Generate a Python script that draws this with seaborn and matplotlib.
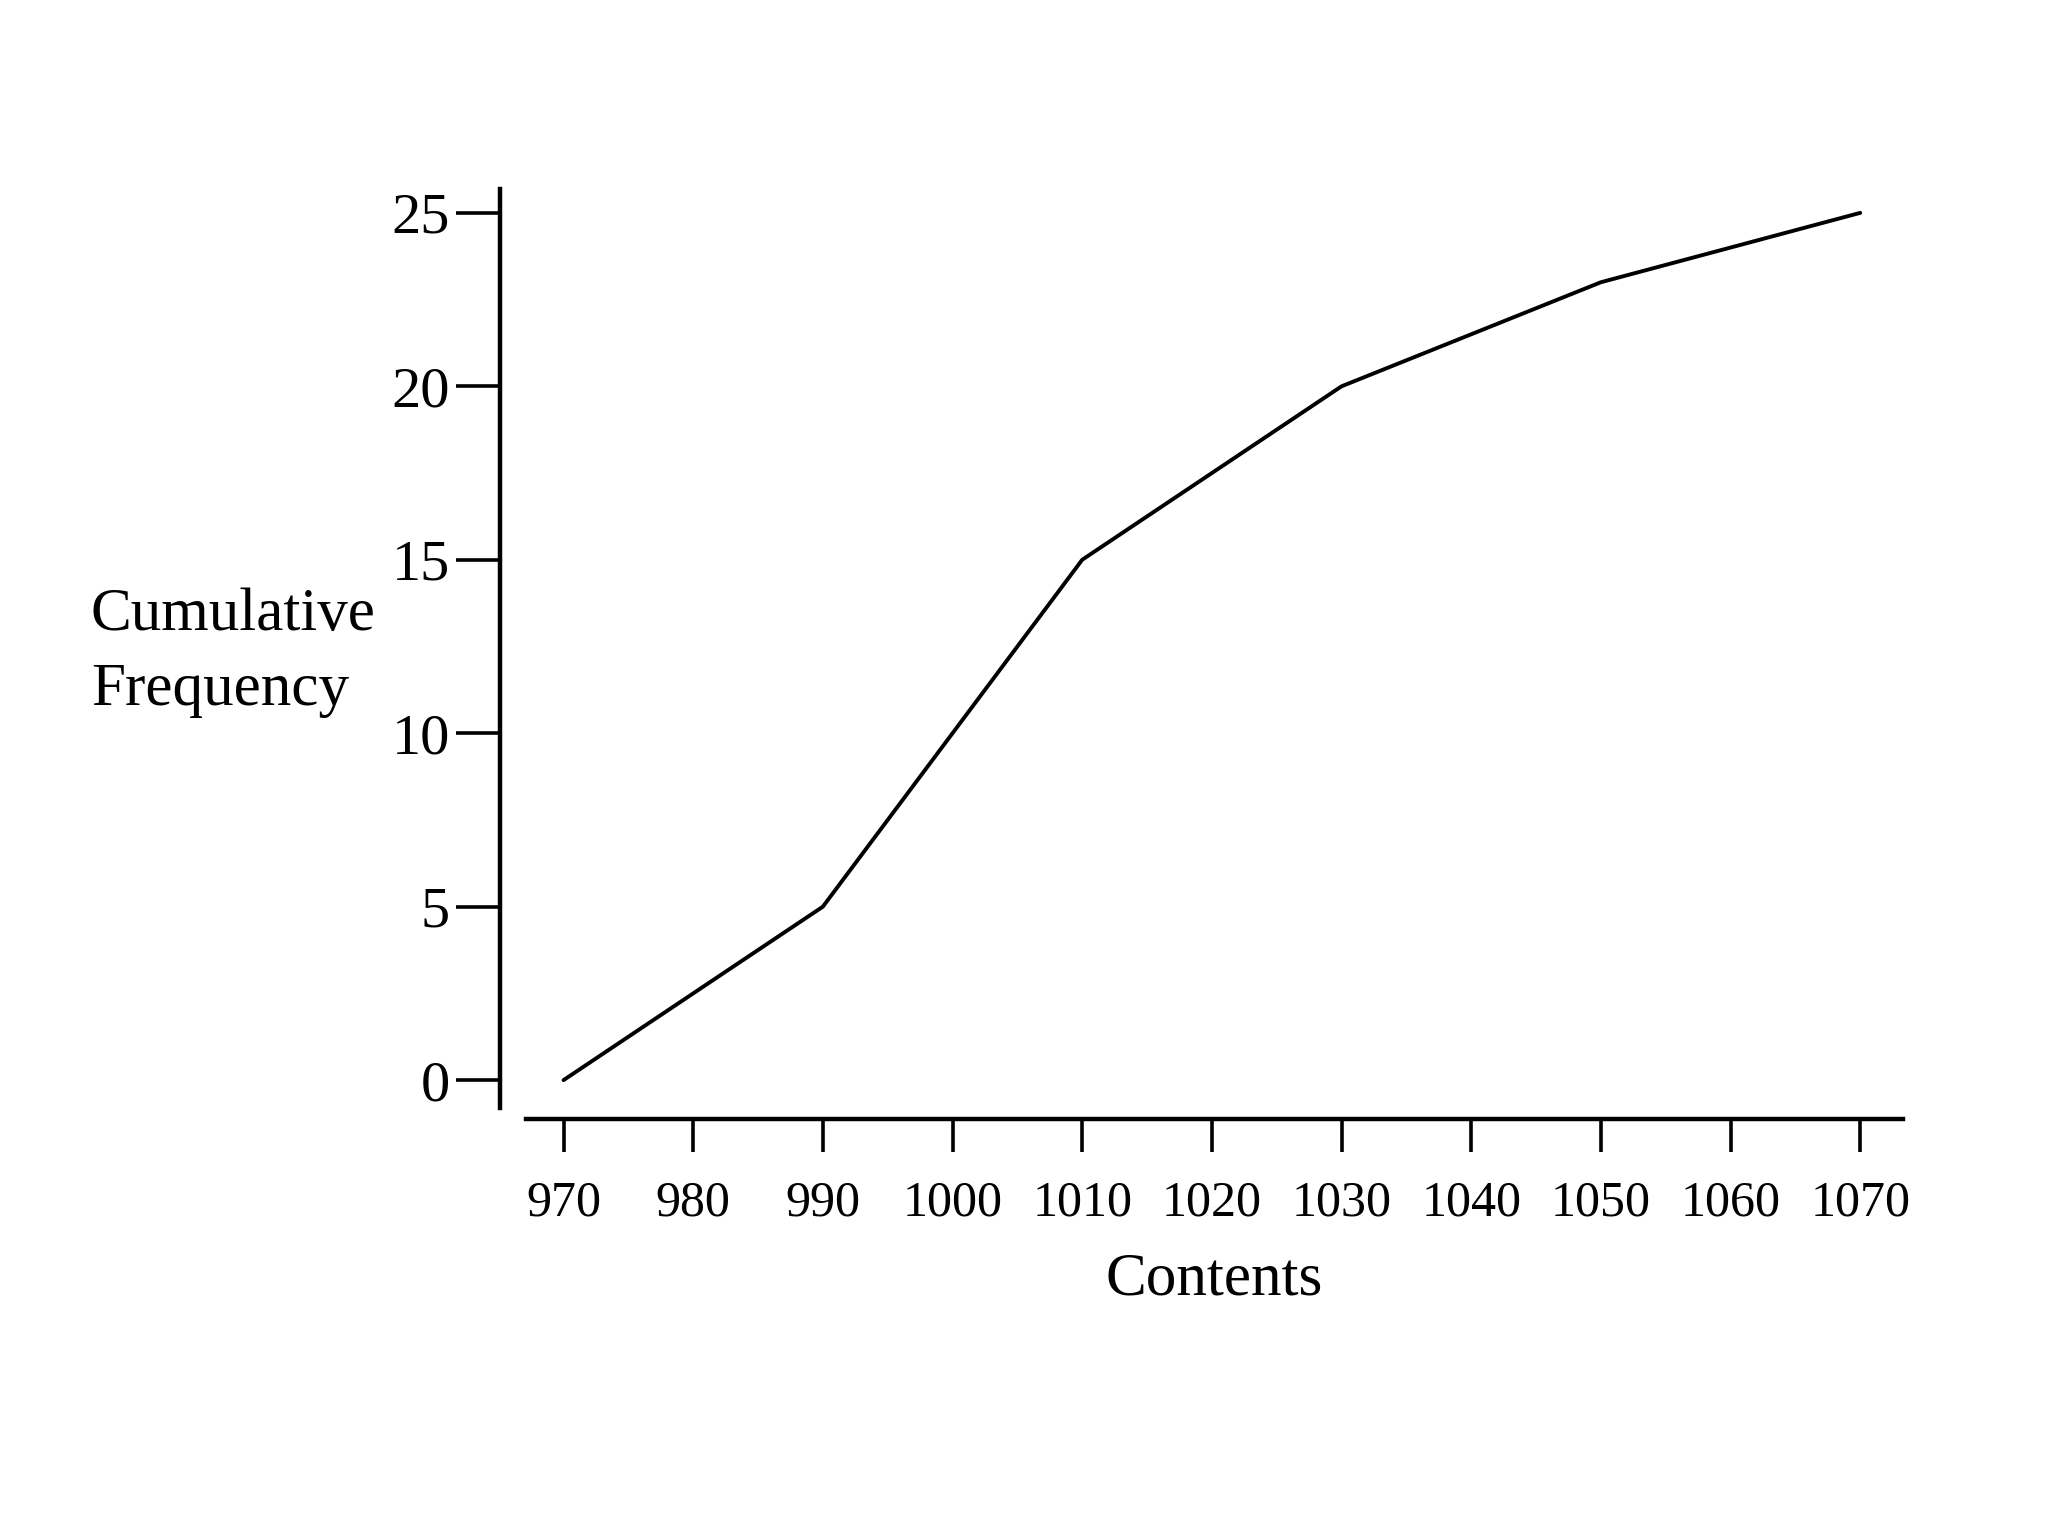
import matplotlib
matplotlib.use("Agg")
import matplotlib.pyplot as plt
import seaborn as sns
import pandas as pd

contents = [970, 990, 1010, 1030, 1050, 1070]
cum_freq = [0, 5, 15, 20, 23, 25]
x_ticks = [970, 980, 990, 1000, 1010, 1020, 1030, 1040, 1050, 1060, 1070]
y_ticks = [0, 5, 10, 15, 20, 25]

sns.set_style("ticks")
plt.rcParams['font.family'] = ['Liberation Serif', 'DejaVu Serif']
plt.rcParams['text.color'] = 'black'
plt.rcParams['axes.labelcolor'] = 'black'
plt.rcParams['xtick.color'] = 'black'
plt.rcParams['ytick.color'] = 'black'

df = pd.DataFrame({"Contents": contents, "Cumulative Frequency": cum_freq})

fig = plt.figure(figsize=(10.24, 7.68), dpi=200)
ax = fig.add_axes([0.2568, 0.2715, 0.6724, 0.6055])

sns.lineplot(data=df, x="Contents", y="Cumulative Frequency", color="black",
             linewidth=1.4, ax=ax)

ax.set_xlim(967.1, 1073.3)
ax.set_ylim(-1.12, 25.69)
ax.set_xticks(x_ticks, labels=[str(v) for v in x_ticks])
ax.set_yticks(y_ticks, labels=[str(v) for v in y_ticks])

for side in ["top", "right"]:
    ax.spines[side].set_visible(False)
ax.spines["left"].set_position(("outward", 9.4))
ax.spines["left"].set_bounds(-0.81, 25.69)
for side in ["left", "bottom"]:
    ax.spines[side].set_linewidth(1.6)
    ax.spines[side].set_color("black")

ax.tick_params(axis="x", direction="out", length=12, width=1.3, pad=10,
               colors="black", labelsize=18)
ax.tick_params(axis="y", direction="out", length=16, width=1.3, pad=2,
               colors="black", labelsize=21)

ax.set_xlabel("Contents", fontsize=22, labelpad=9, color="black")
ax.set_ylabel("Cumulative\nFrequency", fontsize=22, rotation=0, color="black",
              ha="left", va="center", multialignment="left", linespacing=1.45)
ax.yaxis.set_label_coords(-0.316, 0.501)

fig.savefig("out.png", dpi=200, facecolor="white")
